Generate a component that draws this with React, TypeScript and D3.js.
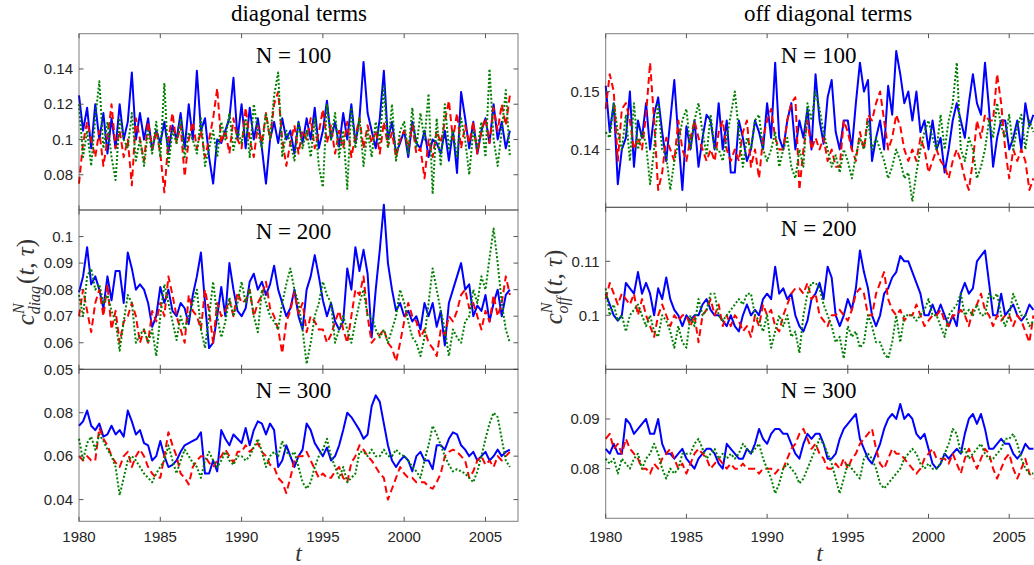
import React from 'react'
import * as d3 from 'd3'

// quarterly samples starting at 1980.0
const START_YEAR = 1980
const STEP = 0.25
const xTicks = [1980, 1985, 1990, 1995, 2000, 2005]

// ---- diagonal terms ----
const diag100Blue = [
  0.125, 0.105, 0.118, 0.095, 0.12, 0.1, 0.115, 0.092, 0.112, 0.095, 0.12, 0.1,
  0.11, 0.138, 0.1, 0.115, 0.1, 0.112, 0.094, 0.105, 0.098, 0.11, 0.093, 0.108,
  0.1, 0.115, 0.095, 0.12, 0.1, 0.139, 0.105, 0.112, 0.09, 0.075, 0.1, 0.098,
  0.105, 0.112, 0.135, 0.1, 0.12, 0.095, 0.118, 0.1, 0.112, 0.095, 0.075, 0.1,
  0.11, 0.098, 0.112, 0.1, 0.105, 0.092, 0.11, 0.098, 0.112, 0.1, 0.118, 0.095,
  0.105, 0.122, 0.1, 0.11, 0.096, 0.115, 0.1, 0.12, 0.098, 0.112, 0.144, 0.115,
  0.105, 0.095, 0.112, 0.139, 0.1, 0.11, 0.092, 0.098, 0.105, 0.09, 0.11, 0.098,
  0.095, 0.105, 0.09, 0.1, 0.098, 0.092, 0.105, 0.088, 0.105, 0.081, 0.127, 0.112,
  0.095, 0.11, 0.092, 0.105, 0.112, 0.098, 0.12, 0.1, 0.11, 0.095, 0.105,
]
const diag100Red = [
  0.075, 0.098, 0.11, 0.1, 0.09, 0.105, 0.085, 0.1, 0.12, 0.095, 0.105, 0.09,
  0.1, 0.074, 0.112, 0.1, 0.088, 0.11, 0.095, 0.105, 0.092, 0.07, 0.1, 0.115,
  0.098, 0.108, 0.079, 0.1, 0.11, 0.095, 0.105, 0.09, 0.1, 0.112, 0.129, 0.098,
  0.105, 0.092, 0.112, 0.1, 0.095, 0.118, 0.1, 0.09, 0.108, 0.098, 0.115, 0.1,
  0.12, 0.127, 0.1, 0.085, 0.098, 0.108, 0.092, 0.105, 0.1, 0.112, 0.095, 0.104,
  0.117, 0.098, 0.108, 0.092, 0.105, 0.095, 0.11, 0.09, 0.102, 0.112, 0.095, 0.108,
  0.098, 0.105, 0.092, 0.11, 0.096, 0.104, 0.09, 0.1, 0.105, 0.095, 0.108, 0.092,
  0.095, 0.078, 0.1, 0.09, 0.105, 0.098, 0.11, 0.122, 0.1, 0.115, 0.095, 0.108,
  0.098, 0.11, 0.092, 0.105, 0.112, 0.098, 0.118, 0.105, 0.12, 0.108, 0.125,
]
const diag100Green = [
  0.12, 0.09, 0.105, 0.085, 0.112, 0.133, 0.095, 0.11, 0.09, 0.077, 0.112, 0.1,
  0.095, 0.115, 0.088, 0.1, 0.085, 0.105, 0.092, 0.11, 0.09, 0.132, 0.085, 0.105,
  0.098, 0.112, 0.09, 0.104, 0.1, 0.092, 0.112, 0.085, 0.095, 0.105, 0.09, 0.11,
  0.1, 0.115, 0.094, 0.105, 0.098, 0.112, 0.09, 0.12, 0.105, 0.095, 0.115, 0.1,
  0.125, 0.138, 0.09, 0.105, 0.098, 0.088, 0.11, 0.095, 0.105, 0.09, 0.112, 0.085,
  0.073, 0.12, 0.1, 0.115, 0.09, 0.105, 0.072, 0.118, 0.095, 0.112, 0.085, 0.105,
  0.09, 0.11, 0.098, 0.13, 0.095, 0.12, 0.088, 0.105, 0.11, 0.092, 0.118, 0.095,
  0.115, 0.1, 0.126, 0.069, 0.112, 0.085, 0.12, 0.095, 0.105, 0.09, 0.112, 0.1,
  0.08, 0.105, 0.095, 0.11, 0.09, 0.14, 0.1, 0.085, 0.105, 0.128, 0.09,
]
const diag200Blue = [
  0.079, 0.085, 0.096, 0.082, 0.085, 0.08, 0.073, 0.085, 0.076, 0.087, 0.087, 0.075,
  0.094, 0.088, 0.08, 0.082, 0.08, 0.075, 0.066, 0.07, 0.081, 0.075, 0.08, 0.072,
  0.07, 0.075, 0.073, 0.067, 0.078, 0.085, 0.094, 0.075, 0.058, 0.06, 0.07, 0.081,
  0.07, 0.09, 0.08, 0.072, 0.07, 0.073, 0.083, 0.086, 0.08, 0.083, 0.078, 0.082,
  0.089, 0.08, 0.075, 0.07, 0.073, 0.08, 0.07, 0.065, 0.08, 0.085, 0.093, 0.085,
  0.076, 0.07, 0.075, 0.068, 0.065, 0.068, 0.088, 0.08, 0.096, 0.087, 0.095, 0.086,
  0.062, 0.08, 0.095, 0.112, 0.09, 0.08, 0.072, 0.075, 0.07, 0.072, 0.068, 0.07,
  0.065, 0.075, 0.07, 0.075, 0.066, 0.072, 0.059, 0.075, 0.08, 0.085, 0.09, 0.08,
  0.082, 0.07, 0.074, 0.072, 0.078, 0.068, 0.075, 0.08, 0.07, 0.078, 0.08,
]
const diag200Red = [
  0.07, 0.08, 0.072, 0.064, 0.075, 0.08, 0.07, 0.082, 0.065, 0.072, 0.06, 0.068,
  0.07, 0.075, 0.07, 0.06, 0.065, 0.06, 0.072, 0.068, 0.075, 0.07, 0.085, 0.078,
  0.07, 0.065, 0.06, 0.078, 0.072, 0.07, 0.065, 0.08, 0.072, 0.06, 0.075, 0.07,
  0.072, 0.076, 0.07, 0.079, 0.075, 0.076, 0.08, 0.07, 0.075, 0.078, 0.083, 0.073,
  0.07, 0.065, 0.056, 0.068, 0.072, 0.079, 0.071, 0.075, 0.064, 0.07, 0.068, 0.065,
  0.065, 0.06, 0.063, 0.068, 0.072, 0.065, 0.06, 0.07, 0.08, 0.078, 0.085, 0.07,
  0.06, 0.062, 0.063, 0.065, 0.06, 0.058, 0.053, 0.06, 0.068, 0.075, 0.07, 0.068,
  0.062, 0.065, 0.06, 0.058, 0.055, 0.065, 0.063, 0.07, 0.068, 0.072, 0.078, 0.08,
  0.073, 0.075, 0.07, 0.065, 0.072, 0.068, 0.078, 0.07, 0.075, 0.085, 0.078,
]
const diag200Green = [
  0.078, 0.07, 0.085, 0.088, 0.08, 0.082, 0.075, 0.078, 0.072, 0.068, 0.057, 0.068,
  0.078, 0.075, 0.06, 0.063, 0.065, 0.06, 0.065, 0.055, 0.07, 0.082, 0.075, 0.068,
  0.061, 0.07, 0.065, 0.07, 0.075, 0.08, 0.065, 0.058, 0.07, 0.083, 0.07, 0.062,
  0.068, 0.077, 0.07, 0.075, 0.083, 0.075, 0.08, 0.07, 0.064, 0.08, 0.075, 0.07,
  0.068, 0.065, 0.075, 0.082, 0.088, 0.08, 0.075, 0.065, 0.052, 0.06, 0.07, 0.075,
  0.083, 0.078, 0.075, 0.06, 0.065, 0.07, 0.065, 0.06, 0.068, 0.075, 0.08, 0.07,
  0.07, 0.065, 0.062, 0.065, 0.06, 0.065, 0.07, 0.08, 0.075, 0.068, 0.062, 0.06,
  0.055, 0.062, 0.075, 0.088, 0.08, 0.072, 0.065, 0.055, 0.065, 0.062, 0.06, 0.068,
  0.07, 0.08, 0.075, 0.085, 0.08, 0.092, 0.103, 0.09, 0.075, 0.065, 0.06,
]
const diag300Blue = [
  0.074, 0.076, 0.081, 0.074, 0.072, 0.075, 0.069, 0.07, 0.074, 0.07, 0.072, 0.069,
  0.081, 0.076, 0.07, 0.072, 0.066, 0.065, 0.058, 0.06, 0.067, 0.06, 0.055, 0.056,
  0.058, 0.062, 0.065, 0.066, 0.067, 0.068, 0.071, 0.052, 0.052, 0.058, 0.053, 0.072,
  0.068, 0.065, 0.07, 0.068, 0.066, 0.073, 0.065, 0.072, 0.076, 0.075, 0.07, 0.075,
  0.072, 0.055, 0.058, 0.065, 0.06, 0.055, 0.06, 0.063, 0.075, 0.072, 0.066, 0.063,
  0.06, 0.064, 0.058, 0.06, 0.065, 0.072, 0.08, 0.078, 0.075, 0.072, 0.068, 0.07,
  0.083, 0.088, 0.085, 0.075, 0.065, 0.058, 0.055, 0.058, 0.06, 0.058, 0.053, 0.06,
  0.062, 0.058, 0.058, 0.054, 0.065, 0.065, 0.063, 0.068, 0.071, 0.07, 0.065, 0.063,
  0.06, 0.062, 0.058, 0.06, 0.062, 0.058, 0.06, 0.063, 0.06, 0.062, 0.063,
]
const diag300Red = [
  0.06, 0.058, 0.06, 0.058, 0.058, 0.073, 0.068, 0.065, 0.06, 0.057, 0.055, 0.06,
  0.062, 0.055, 0.06, 0.063, 0.06, 0.055, 0.052, 0.05, 0.05, 0.06, 0.071, 0.065,
  0.06, 0.052, 0.05, 0.047, 0.055, 0.058, 0.06, 0.06, 0.057, 0.055, 0.058, 0.06,
  0.063, 0.06, 0.057, 0.062, 0.062, 0.065, 0.062, 0.064, 0.066, 0.062, 0.06, 0.056,
  0.055, 0.05, 0.048, 0.043, 0.05, 0.058, 0.06, 0.06, 0.062, 0.058, 0.054, 0.05,
  0.052, 0.05, 0.05, 0.053, 0.055, 0.05, 0.048, 0.057, 0.06, 0.065, 0.063, 0.06,
  0.058, 0.055, 0.052, 0.05, 0.04, 0.045, 0.05, 0.055, 0.052, 0.05, 0.05, 0.048,
  0.048, 0.048, 0.046, 0.045, 0.048, 0.052, 0.06, 0.062, 0.063, 0.062, 0.06, 0.058,
  0.05, 0.053, 0.058, 0.06, 0.056, 0.058, 0.055, 0.06, 0.058, 0.06, 0.062,
]
const diag300Green = [
  0.068, 0.058, 0.066, 0.069, 0.063, 0.07, 0.067, 0.063, 0.06, 0.055, 0.042, 0.05,
  0.058, 0.06, 0.058, 0.055, 0.052, 0.05, 0.048, 0.052, 0.055, 0.058, 0.065, 0.058,
  0.052, 0.058, 0.063, 0.06, 0.057, 0.055, 0.05, 0.058, 0.062, 0.058, 0.055, 0.058,
  0.062, 0.058, 0.056, 0.06, 0.06, 0.058, 0.06, 0.064, 0.068, 0.062, 0.055, 0.06,
  0.062, 0.06, 0.067, 0.062, 0.06, 0.062, 0.055, 0.048, 0.045, 0.048, 0.055, 0.06,
  0.063, 0.068, 0.06, 0.055, 0.05, 0.055, 0.048, 0.05, 0.052, 0.062, 0.062, 0.06,
  0.063, 0.06, 0.06, 0.063, 0.06, 0.06, 0.063, 0.061, 0.06, 0.058, 0.055, 0.053,
  0.05, 0.058, 0.065, 0.074, 0.07, 0.065, 0.06, 0.056, 0.053, 0.054, 0.053, 0.052,
  0.05, 0.048, 0.053, 0.06, 0.068, 0.075, 0.08, 0.078, 0.068, 0.058, 0.055,
]

// ---- off diagonal terms ----
const off100Blue = [
  0.151, 0.143, 0.148, 0.134, 0.14, 0.142, 0.15, 0.137, 0.145, 0.142, 0.148, 0.14,
  0.146, 0.149, 0.143, 0.138, 0.145, 0.152, 0.142, 0.133, 0.144, 0.14, 0.145, 0.137,
  0.142, 0.146, 0.145, 0.14, 0.148, 0.14, 0.145, 0.136, 0.136, 0.145, 0.142, 0.138,
  0.14, 0.145, 0.143, 0.14, 0.148, 0.142, 0.155, 0.142, 0.14, 0.145, 0.148, 0.14,
  0.145, 0.142, 0.147, 0.14, 0.153, 0.145, 0.141, 0.149, 0.152, 0.143, 0.14, 0.145,
  0.145, 0.14, 0.148, 0.155, 0.15, 0.152, 0.138, 0.142, 0.145, 0.14, 0.151, 0.146,
  0.157, 0.153, 0.148, 0.15, 0.145, 0.15, 0.143, 0.145, 0.14, 0.145, 0.14, 0.142,
  0.136, 0.14, 0.145, 0.148, 0.145, 0.142, 0.148, 0.153, 0.148, 0.146, 0.155, 0.147,
  0.137, 0.142, 0.145, 0.145, 0.14, 0.142, 0.145, 0.14, 0.148, 0.144, 0.146,
]
const off100Red = [
  0.147, 0.153, 0.15, 0.138, 0.147, 0.148, 0.145, 0.14, 0.142, 0.14, 0.146, 0.155,
  0.145, 0.133, 0.136, 0.142, 0.14, 0.138, 0.145, 0.14, 0.138, 0.142, 0.145, 0.142,
  0.14, 0.138, 0.14, 0.138, 0.143, 0.145, 0.14, 0.138, 0.14, 0.138, 0.143, 0.145,
  0.137, 0.14, 0.135, 0.142, 0.145, 0.147, 0.142, 0.14, 0.14, 0.145, 0.148, 0.149,
  0.133, 0.14, 0.145, 0.14, 0.142, 0.14, 0.142, 0.138, 0.14, 0.137, 0.137, 0.145,
  0.143, 0.14, 0.138, 0.143, 0.14, 0.146, 0.145, 0.148, 0.15, 0.145, 0.14, 0.142,
  0.146, 0.144, 0.14, 0.138, 0.14, 0.138, 0.142, 0.14, 0.136, 0.138, 0.14, 0.138,
  0.137, 0.135, 0.138, 0.14, 0.138, 0.135, 0.133, 0.138, 0.145, 0.142, 0.146, 0.145,
  0.145, 0.153, 0.148, 0.14, 0.135, 0.14, 0.138, 0.14, 0.138, 0.133, 0.135,
]
const off100Green = [
  0.143, 0.142, 0.148, 0.143, 0.14, 0.146, 0.138, 0.148, 0.14, 0.143, 0.141, 0.134,
  0.14, 0.148, 0.14, 0.139, 0.133, 0.138, 0.141, 0.145, 0.147, 0.14, 0.145, 0.148,
  0.143, 0.139, 0.146, 0.14, 0.14, 0.138, 0.142, 0.146, 0.15, 0.143, 0.137, 0.142,
  0.14, 0.145, 0.146, 0.14, 0.138, 0.14, 0.143, 0.137, 0.14, 0.142, 0.137, 0.135,
  0.14, 0.137, 0.148, 0.145, 0.15, 0.147, 0.143, 0.14, 0.137, 0.139, 0.136, 0.14,
  0.138, 0.135, 0.139, 0.142, 0.14, 0.145, 0.14, 0.142, 0.14, 0.138, 0.135, 0.137,
  0.14, 0.138, 0.135, 0.136, 0.131, 0.136, 0.14, 0.143, 0.145, 0.142, 0.14, 0.146,
  0.14, 0.145, 0.148, 0.155, 0.14, 0.138, 0.142, 0.14, 0.135, 0.137, 0.14, 0.145,
  0.142, 0.148, 0.144, 0.142, 0.146, 0.14, 0.144, 0.146, 0.14, 0.145, 0.143,
]
const off200Blue = [
  0.104, 0.102, 0.1, 0.099, 0.1, 0.106, 0.105, 0.104, 0.108, 0.104, 0.106, 0.104,
  0.1, 0.105, 0.103, 0.107, 0.103, 0.101, 0.1, 0.098, 0.1, 0.099, 0.1, 0.1,
  0.102, 0.103, 0.101, 0.1, 0.1, 0.099, 0.098, 0.1, 0.098, 0.097, 0.1, 0.102,
  0.1, 0.101, 0.1, 0.103, 0.104, 0.103, 0.109, 0.104, 0.105, 0.103, 0.104, 0.1,
  0.098, 0.097, 0.099, 0.103, 0.104, 0.106, 0.103, 0.109, 0.107, 0.1, 0.098, 0.1,
  0.103, 0.101, 0.105, 0.112, 0.108, 0.105, 0.1, 0.098, 0.1, 0.104, 0.105, 0.107,
  0.108, 0.111, 0.11, 0.11, 0.108, 0.106, 0.104, 0.1, 0.1, 0.102, 0.1, 0.102,
  0.1, 0.098, 0.1, 0.098, 0.104, 0.106, 0.104, 0.105, 0.11, 0.111, 0.112, 0.106,
  0.1, 0.1, 0.104, 0.1, 0.101, 0.102, 0.1, 0.099, 0.1, 0.102, 0.101,
]
const off200Red = [
  0.103, 0.106, 0.104, 0.102, 0.104, 0.103, 0.102, 0.104, 0.1, 0.103, 0.1, 0.098,
  0.096, 0.1, 0.102, 0.1, 0.098, 0.1, 0.099, 0.1, 0.1, 0.098, 0.1, 0.095,
  0.1, 0.101, 0.103, 0.1, 0.102, 0.098, 0.1, 0.098, 0.1, 0.099, 0.097, 0.098,
  0.096, 0.1, 0.098, 0.102, 0.1, 0.101, 0.098, 0.097, 0.1, 0.102, 0.104, 0.105,
  0.105, 0.104, 0.106, 0.103, 0.104, 0.1, 0.099, 0.098, 0.1, 0.1, 0.101, 0.1,
  0.099, 0.101, 0.104, 0.105, 0.104, 0.1, 0.1, 0.104, 0.106, 0.108, 0.103, 0.101,
  0.1, 0.101, 0.099, 0.1, 0.1, 0.102, 0.1, 0.098, 0.099, 0.1, 0.1, 0.101,
  0.099, 0.098, 0.1, 0.1, 0.101, 0.1, 0.098, 0.101, 0.102, 0.104, 0.101, 0.1,
  0.098, 0.1, 0.099, 0.1, 0.1, 0.098, 0.1, 0.099, 0.097, 0.095, 0.1,
]
const off200Green = [
  0.105, 0.1, 0.102, 0.099, 0.1, 0.097, 0.1, 0.101, 0.102, 0.1, 0.098, 0.1,
  0.097, 0.096, 0.1, 0.099, 0.097, 0.094, 0.098, 0.095, 0.094, 0.1, 0.098, 0.103,
  0.1, 0.101, 0.104, 0.104, 0.1, 0.099, 0.1, 0.101, 0.102, 0.103, 0.102, 0.104,
  0.104, 0.1, 0.099, 0.097, 0.1, 0.094, 0.097, 0.1, 0.098, 0.1, 0.096, 0.097,
  0.093, 0.1, 0.104, 0.106, 0.106, 0.105, 0.102, 0.1, 0.098, 0.095, 0.096, 0.092,
  0.098, 0.096, 0.097, 0.094, 0.095, 0.1, 0.098, 0.095, 0.095, 0.093, 0.092, 0.095,
  0.1, 0.095, 0.1, 0.1, 0.1, 0.099, 0.1, 0.101, 0.103, 0.1, 0.1, 0.098,
  0.096, 0.1, 0.101, 0.102, 0.104, 0.1, 0.101, 0.1, 0.102, 0.1, 0.1, 0.104,
  0.103, 0.104, 0.1, 0.098, 0.1, 0.104, 0.102, 0.1, 0.1, 0.098, 0.099,
]
const off300Blue = [
  0.084, 0.083, 0.085, 0.083, 0.083, 0.09, 0.089, 0.087, 0.088, 0.089, 0.09, 0.087,
  0.087, 0.09, 0.085, 0.083, 0.083, 0.082, 0.083, 0.084, 0.082, 0.081, 0.08, 0.082,
  0.083, 0.084, 0.084, 0.083, 0.081, 0.08, 0.085, 0.084, 0.083, 0.082, 0.082, 0.084,
  0.083, 0.085, 0.088, 0.086, 0.085, 0.087, 0.088, 0.088, 0.087, 0.087, 0.085, 0.083,
  0.082, 0.085, 0.087, 0.086, 0.087, 0.087, 0.085, 0.082, 0.082, 0.083, 0.086, 0.088,
  0.089, 0.09, 0.091, 0.086, 0.084, 0.082, 0.081, 0.083, 0.085, 0.088, 0.09, 0.091,
  0.09, 0.093, 0.09, 0.091, 0.09, 0.087, 0.086, 0.087, 0.084, 0.081, 0.08, 0.081,
  0.083, 0.082, 0.083, 0.084, 0.083, 0.087, 0.09, 0.091, 0.089, 0.091, 0.088, 0.084,
  0.084, 0.085, 0.086, 0.085, 0.085, 0.083, 0.082, 0.083, 0.085, 0.084, 0.084,
]
const off300Red = [
  0.086, 0.087, 0.084, 0.085, 0.083, 0.086, 0.084, 0.083, 0.082, 0.08, 0.08, 0.079,
  0.081, 0.08, 0.082, 0.083, 0.084, 0.082, 0.08, 0.081, 0.079, 0.081, 0.083, 0.084,
  0.083, 0.082, 0.08, 0.081, 0.082, 0.081, 0.08, 0.081, 0.08, 0.08, 0.081, 0.08,
  0.08, 0.08, 0.079, 0.08, 0.08, 0.08, 0.079, 0.08, 0.08, 0.082, 0.084, 0.085,
  0.087, 0.088, 0.086, 0.084, 0.085, 0.083, 0.082, 0.08, 0.08, 0.081, 0.08, 0.082,
  0.08, 0.082, 0.083, 0.085, 0.086, 0.087, 0.088, 0.084, 0.081, 0.08, 0.082, 0.084,
  0.083, 0.083, 0.082, 0.081, 0.08, 0.079, 0.08, 0.082, 0.083, 0.084, 0.082, 0.082,
  0.082, 0.081, 0.083, 0.081, 0.079, 0.082, 0.084, 0.082, 0.08, 0.082, 0.084, 0.083,
  0.08, 0.078, 0.08, 0.082, 0.083, 0.08, 0.078, 0.08, 0.082, 0.079, 0.078,
]
const off300Green = [
  0.082, 0.081, 0.082, 0.079, 0.082, 0.081, 0.08, 0.082, 0.083, 0.08, 0.082, 0.083,
  0.085, 0.083, 0.08, 0.078, 0.08, 0.079, 0.08, 0.083, 0.083, 0.083, 0.085, 0.086,
  0.084, 0.082, 0.083, 0.084, 0.082, 0.083, 0.082, 0.083, 0.082, 0.083, 0.085, 0.084,
  0.083, 0.084, 0.085, 0.082, 0.08, 0.078, 0.075, 0.077, 0.08, 0.081, 0.08, 0.079,
  0.077, 0.078, 0.08, 0.082, 0.084, 0.086, 0.085, 0.083, 0.081, 0.078, 0.075, 0.078,
  0.081, 0.08, 0.079, 0.078, 0.082, 0.083, 0.082, 0.08, 0.077, 0.076, 0.077, 0.078,
  0.079, 0.08, 0.082, 0.083, 0.084, 0.083, 0.081, 0.08, 0.081, 0.08, 0.08, 0.081,
  0.083, 0.085, 0.088, 0.087, 0.083, 0.084, 0.082, 0.083, 0.084, 0.085, 0.083, 0.082,
  0.082, 0.083, 0.084, 0.086, 0.086, 0.087, 0.085, 0.082, 0.08, 0.079, 0.079,
]

const panels = [
  { col: 0, row: 0, label: 'N = 100', yDomain: [0.06, 0.16], yTicks: [0.08, 0.1, 0.12, 0.14], series: [diag100Blue, diag100Red, diag100Green] },
  { col: 0, row: 1, label: 'N = 200', yDomain: [0.05, 0.11], yTicks: [0.05, 0.06, 0.07, 0.08, 0.09, 0.1], series: [diag200Blue, diag200Red, diag200Green] },
  { col: 0, row: 2, label: 'N = 300', yDomain: [0.03, 0.1], yTicks: [0.04, 0.06, 0.08], series: [diag300Blue, diag300Red, diag300Green] },
  { col: 1, row: 0, label: 'N = 100', yDomain: [0.13, 0.16], yTicks: [0.14, 0.15], series: [off100Blue, off100Red, off100Green] },
  { col: 1, row: 1, label: 'N = 200', yDomain: [0.09, 0.12], yTicks: [0.1, 0.11], series: [off200Blue, off200Red, off200Green] },
  { col: 1, row: 2, label: 'N = 300', yDomain: [0.07, 0.1], yTicks: [0.08, 0.09], series: [off300Blue, off300Red, off300Green] },
]

// layout (pixels)
const columns = [
  { x0: 79, x1: 518, rows: [[33.7, 210], [210, 369.3], [369.3, 521.3]], title: 'diagonal terms', titleX: 299, sub: 'diag', yLabelX: 34, yLabelY: 282 },
  { x0: 605.7, x1: 1041.5, rows: [[33.7, 207.3], [207.3, 369.3], [369.3, 518.3]], title: 'off diagonal terms', titleX: 828, sub: 'off', yLabelX: 562, yLabelY: 287 },
]
const lineStyles = [
  { color: '#0000ff', dash: undefined as string | undefined },
  { color: '#ff0000', dash: '7,4' },
  { color: '#008000', dash: '2,2' },
]
const SANS = '"Liberation Sans", Arial, Helvetica, sans-serif'
const SERIF = '"Liberation Serif", "Times New Roman", serif'
const TICK = 4.5
const fmt = (v: number) => String(+v.toFixed(3))

function Panel({ p }: { p: typeof panels[number] }) {
  const c = columns[p.col]
  const [top, bottom] = c.rows[p.row]
  const x = d3.scaleLinear().domain([1980, 2007]).range([c.x0, c.x1])
  const y = d3.scaleLinear().domain(p.yDomain).range([bottom, top])
  const line = d3
    .line<number>()
    .x((_, i) => x(START_YEAR + i * STEP))
    .y(v => y(v))
  const isBottom = p.row === 2
  return (
    <g>
      {p.series.map((s, i) => (
        <path
          key={i}
          d={line(s) || ''}
          fill="none"
          stroke={lineStyles[i].color}
          strokeWidth={2}
          strokeDasharray={lineStyles[i].dash}
          strokeLinejoin="round"
        />
      ))}
      <rect x={c.x0} y={top} width={c.x1 - c.x0} height={bottom - top} fill="none" stroke="rgba(38,38,38,0.6)" strokeWidth={1} />
      {p.yTicks.map(t => (
        <g key={t}>
          <line x1={c.x0} x2={c.x0 + TICK} y1={y(t)} y2={y(t)} stroke="#555" />
          <line x1={c.x1} x2={c.x1 - TICK} y1={y(t)} y2={y(t)} stroke="#555" />
          <text x={c.x0 - 6} y={y(t)} dy="0.35em" textAnchor="end" fontFamily={SANS} fontSize={15} fill="#262626">
            {fmt(t)}
          </text>
        </g>
      ))}
      {xTicks.map(t => (
        <g key={t}>
          <line x1={x(t)} x2={x(t)} y1={bottom} y2={bottom - TICK} stroke="#555" />
          <line x1={x(t)} x2={x(t)} y1={top} y2={top + TICK} stroke="#555" />
          {isBottom && (
            <text x={x(t)} y={541.5} textAnchor="middle" fontFamily={SANS} fontSize={15} fill="#262626">
              {t}
            </text>
          )}
        </g>
      ))}
      <text x={(c.x0 + c.x1) / 2 - 5} y={top + 29} textAnchor="middle" fontFamily={SERIF} fontSize={23} fill="#000">
        {p.label}
      </text>
    </g>
  )
}

function YLabel({ c }: { c: typeof columns[number] }) {
  return (
    <text
      transform={`translate(${c.yLabelX},${c.yLabelY}) rotate(-90)`}
      textAnchor="middle"
      fontFamily={SERIF}
      fontSize={25}
      fontStyle="italic"
      fill="#333"
    >
      <tspan>c</tspan>
      <tspan fontSize={16} dy={-10}>N</tspan>
      <tspan fontSize={16} dx={-11} dy={16}>{c.sub}</tspan>
      <tspan dy={-6} dx={2} fontStyle="normal">(</tspan>
      <tspan>t</tspan>
      <tspan fontStyle="normal">, </tspan>
      <tspan>τ</tspan>
      <tspan fontStyle="normal">)</tspan>
    </text>
  )
}

export default function App() {
  return (
    <svg width={1034} height={565} style={{ position: 'absolute', left: 0, top: 0, background: '#fff' }}>
      {panels.map((p, i) => (
        <Panel key={i} p={p} />
      ))}
      {columns.map((c, i) => (
        <g key={i}>
          <text x={c.titleX} y={21} textAnchor="middle" fontFamily={SERIF} fontSize={23} fill="#000">
            {c.title}
          </text>
          <YLabel c={c} />
          <text x={(c.x0 + c.x1) / 2 - (i === 0 ? 0 : 4)} y={561} textAnchor="middle" fontFamily={SERIF} fontSize={24} fontStyle="italic" fill="#333">
            t
          </text>
        </g>
      ))}
    </svg>
  )
}
